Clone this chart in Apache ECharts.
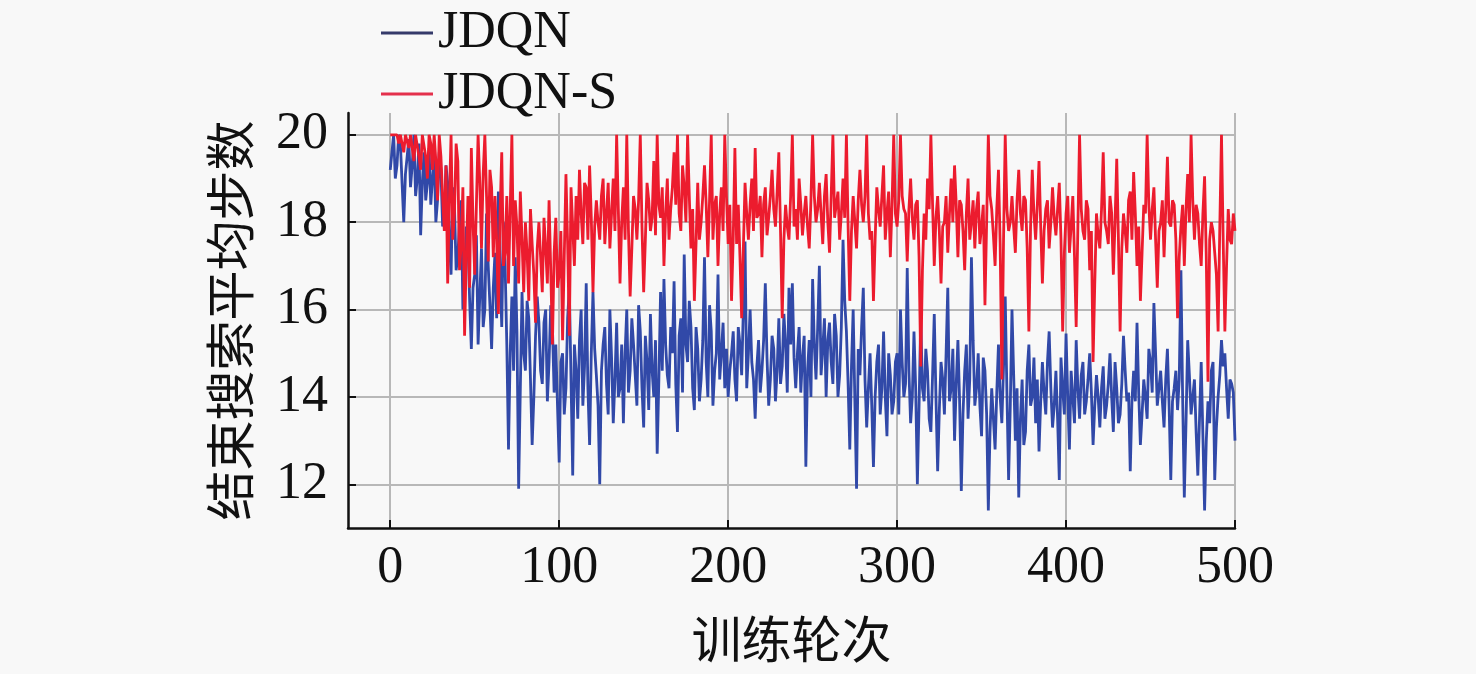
<!DOCTYPE html>
<html style="height: 100%">
<head>
	<meta charset="utf-8">
	<title></title>
	<script type="text/javascript" src="https://cdn.jsdelivr.net/npm/echarts@6.0.0/dist/echarts.min.js"></script>
</head>
<body style="height: 100%; margin: 0">
<div id="container" style="height: 100%"></div>
<script type="text/javascript">
	// values, one point per episode (0..500), 20 per row
	var episodeStep = 1;
	var seriesNames = ['JDQN', 'JDQN-S'];
	var yTicks = [12, 14, 16, 18, 20];
	var xTicks = [0, 100, 200, 300, 400, 500];

	var jdqn = [
		19.2,19.6,20.0,19.0,19.3,20.0,19.8,18.9,18.0,19.1,19.5,19.9,18.8,19.3,20.0,18.6,19.0,19.8,17.7,18.9,
		19.6,18.5,18.9,19.7,18.4,19.0,19.5,18.0,18.5,19.6,19.2,17.9,18.2,19.3,18.9,17.6,16.8,18.8,18.4,16.9,
		17.2,18.0,18.5,16.0,16.4,17.9,17.6,16.2,15.1,16.5,16.8,17.7,15.2,16.3,17.4,15.6,16.0,18.2,17.0,16.1,
		15.1,16.5,17.3,15.8,18.7,16.9,15.6,18.0,17.0,15.2,12.8,15.0,16.3,14.6,17.2,15.5,11.9,14.2,16.4,15.0,
		14.6,16.2,15.8,14.4,12.9,14.0,15.4,16.3,15.7,14.6,14.3,15.7,16.0,13.9,14.8,16.1,15.6,14.1,15.2,13.8,
		12.5,14.8,15.0,13.6,14.2,15.8,16.5,14.4,12.2,15.2,14.6,13.5,15.3,16.0,13.8,14.7,16.6,14.2,12.9,15.0,
		16.4,15.1,14.5,13.8,12.0,14.6,15.2,15.6,14.3,13.6,16.0,14.9,13.4,14.4,15.7,14.0,14.2,15.2,13.4,15.0,
		16.0,14.1,14.6,15.8,15.2,14.5,13.8,16.1,15.5,14.2,13.3,15.4,14.8,13.7,15.9,14.6,14.0,15.3,12.7,14.4,
		16.4,14.6,16.7,15.2,14.5,14.2,15.6,15.0,16.65,14.3,13.2,15.4,15.8,14.1,17.26,15.2,14.8,16.2,15.6,14.2,
		13.7,15.6,15.1,13.9,14.4,15.3,17.2,14.8,14.0,16.1,15.5,13.8,14.6,15.0,16.8,14.4,15.0,15.7,14.2,15.1,
		14.0,14.6,15.0,15.5,14.4,13.9,15.6,15.2,14.5,16.0,17.56,14.2,15.0,16.0,14.8,14.4,13.5,14.7,15.3,14.1,
		14.6,15.3,16.6,14.9,13.8,14.4,15.4,15.1,13.9,14.6,15.8,14.3,14.7,15.9,15.2,14.1,16.5,15.2,16.6,14.9,
		14.2,15.0,15.6,14.1,14.9,15.4,12.4,14.6,15.3,14.0,16.7,15.2,14.4,15.6,17.0,14.5,15.1,15.8,14.0,15.3,
		15.7,14.8,14.3,15.9,15.4,14.0,14.5,15.6,17.6,16.2,15.5,14.3,12.8,14.7,16.0,13.9,11.9,15.1,14.5,15.6,
		16.5,14.4,13.3,14.2,15.0,13.8,12.4,14.0,14.8,15.2,13.6,14.2,15.5,14.0,13.1,15.0,14.5,13.6,13.9,14.8,
		15.0,13.6,16.0,14.8,14.0,14.3,16.95,14.6,13.4,14.0,15.5,14.2,12.0,13.8,15.8,14.2,13.9,15.1,14.6,13.5,
		13.2,14.5,15.9,14.0,12.3,13.7,14.8,14.4,13.6,15.0,16.5,13.9,14.2,15.1,13.0,14.3,15.3,13.9,11.85,13.6,
		14.6,15.2,13.5,14.4,17.2,15.3,13.8,14.2,15.0,13.8,13.1,14.9,14.6,13.6,11.4,13.2,14.2,13.5,12.8,14.1,
		15.2,14.0,13.4,14.7,16.3,14.1,12.1,13.8,16.0,14.5,13.0,14.2,11.7,13.5,14.4,12.9,13.2,14.6,15.2,13.8,
		14.0,14.9,13.4,14.4,12.75,13.9,14.8,14.1,13.6,14.8,15.5,14.2,13.3,13.8,14.6,13.5,12.1,14.9,14.2,13.6,
		15.45,14.0,12.8,14.6,14.0,13.4,15.3,14.2,13.5,14.5,14.8,13.6,13.9,14.4,15.0,14.1,12.9,13.8,14.5,14.0,
		13.3,14.2,14.7,13.5,13.8,14.3,15.0,14.0,13.2,14.8,14.2,13.4,13.6,14.3,15.4,14.6,13.9,14.1,12.3,13.9,
		14.6,13.9,15.7,14.1,12.9,13.6,14.4,14.0,13.5,15.1,14.8,14.1,16.15,15.0,13.8,14.2,14.6,13.9,13.3,14.4,
		15.1,13.8,12.1,13.9,14.2,14.6,13.7,14.4,16.9,14.0,11.7,13.4,15.3,14.5,13.6,14.0,14.4,13.2,12.2,13.5,
		14.8,13.1,11.4,13.0,13.9,13.4,14.6,14.8,12.1,13.3,14.0,14.5,15.3,14.7,15.0,14.2,13.5,14.4,14.3,14.1,
		13.0
	];

	var jdqnS = [
		20.0,20.0,20.0,20.0,20.0,19.8,20.0,20.0,19.6,20.0,20.0,19.7,20.0,20.0,19.4,20.0,20.0,19.5,19.2,20.0,
		20.0,19.5,19.0,20.0,19.8,19.2,20.0,19.4,18.5,20.0,19.5,18.6,17.8,19.3,16.6,18.5,20.0,17.6,18.2,19.8,
		19.4,16.9,17.5,18.8,15.4,17.2,18.6,16.5,19.7,18.0,16.8,18.4,20.0,18.9,17.4,19.1,20.0,18.6,17.1,19.2,
		18.8,17.2,18.6,17.6,15.9,18.2,19.6,17.0,17.3,18.6,16.6,18.3,20.0,17.0,18.5,17.9,16.6,18.7,17.6,16.4,
		18.0,17.3,16.2,18.3,17.5,16.8,15.7,17.4,18.0,17.2,16.4,18.1,17.4,16.6,18.5,16.9,15.2,17.3,18.1,16.5,
		16.8,17.8,15.3,17.2,19.1,17.5,15.4,18.8,17.9,17.0,18.6,17.6,19.2,18.2,17.5,18.9,18.8,17.6,19.3,18.1,
		16.4,17.9,18.5,18.0,17.6,18.6,19.0,17.5,18.2,18.9,17.4,18.2,19.0,17.8,20.0,18.3,16.6,18.0,18.8,17.6,
		20.0,17.8,16.3,17.4,18.6,18.3,17.6,18.5,20.0,17.9,16.4,17.6,18.9,18.5,17.8,18.1,19.4,17.7,20.0,18.4,
		18.1,18.8,17.0,18.2,19.0,17.6,18.3,18.8,19.6,18.4,20.0,18.2,17.8,19.3,18.8,18.0,20.0,18.6,17.4,18.3,
		16.2,17.5,18.9,17.6,18.0,18.6,19.3,18.4,17.2,18.5,20.0,17.6,18.4,18.6,17.0,18.2,18.8,17.8,20.0,18.6,
		17.5,18.4,16.2,17.6,19.7,17.5,18.4,17.2,15.8,17.4,18.9,18.2,17.6,18.4,19.0,17.8,19.7,18.1,18.2,18.6,
		17.2,18.4,18.8,17.7,18.1,18.6,19.2,18.3,17.9,18.7,19.6,17.8,15.8,17.6,18.4,17.9,17.6,18.6,20.0,17.9,
		18.3,17.6,19.0,18.4,17.7,18.2,18.6,17.9,17.4,18.5,20.0,18.6,18.0,18.3,18.9,18.2,17.5,18.6,19.1,18.0,
		17.3,18.6,20.0,18.1,18.4,18.7,17.6,18.2,19.0,18.1,20.0,17.9,16.2,17.8,18.6,18.0,17.4,18.5,19.2,18.4,
		18.0,18.6,20.0,18.2,17.6,17.8,16.2,17.6,18.8,18.3,17.9,18.6,19.3,17.6,18.2,18.7,17.2,18.4,20.0,18.2,
		17.9,18.5,20.0,18.6,18.3,18.2,17.1,18.3,19.0,18.1,17.6,18.4,18.5,17.2,14.7,16.9,18.2,17.6,19.0,18.3,
		20.0,18.4,17.0,18.1,18.6,17.8,16.6,17.9,18.0,18.6,17.3,18.2,19.0,18.0,19.3,18.4,17.2,18.5,18.4,17.8,
		16.9,18.2,19.0,17.6,18.0,18.5,17.4,18.3,18.7,17.5,17.9,18.4,16.1,18.0,20.0,18.6,18.3,17.7,17.0,18.3,
		19.2,17.5,14.4,17.6,20.0,18.3,17.8,18.0,18.6,17.9,17.3,18.5,19.2,18.2,17.8,18.6,18.5,17.4,15.5,17.9,
		19.2,18.2,17.6,18.4,19.4,17.9,16.6,17.8,18.3,18.5,17.4,18.0,18.8,18.1,17.7,18.3,18.9,17.6,15.5,17.3,
		18.2,18.6,17.3,17.9,18.6,17.2,15.6,17.9,20.0,18.3,17.8,17.6,18.5,18.3,16.9,17.8,14.8,16.6,18.2,17.7,
		17.4,18.3,19.6,18.0,17.8,17.5,18.6,18.2,16.8,18.0,19.45,17.6,15.5,17.4,18.2,17.8,17.3,18.5,18.7,17.6,
		19.15,18.2,17.0,17.9,16.2,17.3,18.4,18.2,20.0,18.4,17.6,18.3,18.8,17.6,16.5,17.8,18.0,18.5,17.2,18.3,
		19.5,18.0,17.9,18.5,18.4,17.6,15.8,17.2,17.9,18.4,17.0,18.3,19.1,18.0,20.0,18.5,17.6,18.4,18.2,17.5,
		17.0,18.2,19.05,17.2,14.35,17.6,18.0,17.8,17.3,16.8,15.5,17.9,20.0,17.6,15.5,17.0,18.3,17.6,17.5,18.2,
		17.8
	];

	function pairs(values) {
		return values.map(function (v, i) { return [i * episodeStep, v]; });
	}

	var dom = document.getElementById('container');
	var myChart = echarts.init(dom);
	var serif = 'Liberation Serif';
	var cjk = 'Noto Sans CJK SC';

	var option = {
		backgroundColor: '#f8f8f8',
		animation: false,
		grid: {
			left: 348,
			right: 241,
			top: 113,
			bottom: 146
		},
		legend: {
			orient: 'vertical',
			left: 376,
			top: 2,
			icon: 'rect',
			itemWidth: 52,
			itemHeight: 3,
			itemGap: 9,
			textStyle: {
				fontFamily: serif,
				fontSize: 52,
				lineHeight: 52,
				color: '#111'
			},
			data: [
				{ name: seriesNames[0], itemStyle: { color: '#353a6a' } },
				{ name: seriesNames[1], itemStyle: { color: '#e4304c' } }
			]
		},
		xAxis: {
			type: 'value',
			min: -25,
			max: 500,
			splitNumber: 5,
			name: '训练轮次',
			nameLocation: 'middle',
			nameGap: 86,
			nameTextStyle: { fontFamily: cjk, fontSize: 50, color: '#111' },
			axisLine: { show: true, onZero: false, lineStyle: { color: '#111', width: 2.5 } },
			axisTick: { show: true, inside: true, length: 8, lineStyle: { color: '#111', width: 2 } },
			axisLabel: {
				showMinLabel: false,
				margin: 14,
				fontFamily: serif,
				fontSize: 52,
				color: '#111',
				formatter: function (v) { return xTicks.indexOf(v) >= 0 ? String(v) : ''; }
			},
			splitLine: { show: true, showMinLine: false, lineStyle: { color: '#b8b8b8', width: 2 } }
		},
		yAxis: {
			type: 'value',
			min: 11,
			max: 20.5,
			splitNumber: 5,
			name: '结束搜索平均步数',
			nameLocation: 'middle',
			nameGap: 93,
			nameTextStyle: { fontFamily: cjk, fontSize: 50, color: '#111' },
			axisLine: { show: true, onZero: false, lineStyle: { color: '#111', width: 2.5 } },
			axisTick: { show: true, inside: true, length: 8, lineStyle: { color: '#111', width: 2 } },
			axisLabel: {
				showMinLabel: false,
				showMaxLabel: false,
				margin: 20,
				fontFamily: serif,
				fontSize: 52,
				color: '#111',
				formatter: function (v) { return yTicks.indexOf(v) >= 0 ? String(v) : ''; }
			},
			splitLine: { show: true, showMinLine: false, showMaxLine: false, lineStyle: { color: '#b8b8b8', width: 2 } }
		},
		series: [
			{
				name: seriesNames[0],
				type: 'line',
				symbol: 'none',
				data: pairs(jdqn),
				lineStyle: { color: '#3149a8', width: 2.8 },
				itemStyle: { color: '#3149a8' }
			},
			{
				name: seriesNames[1],
				type: 'line',
				symbol: 'none',
				data: pairs(jdqnS),
				lineStyle: { color: '#ec1c2e', width: 2.8 },
				itemStyle: { color: '#ec1c2e' }
			}
		]
	};

	myChart.setOption(option);
</script>
</body>
</html>
